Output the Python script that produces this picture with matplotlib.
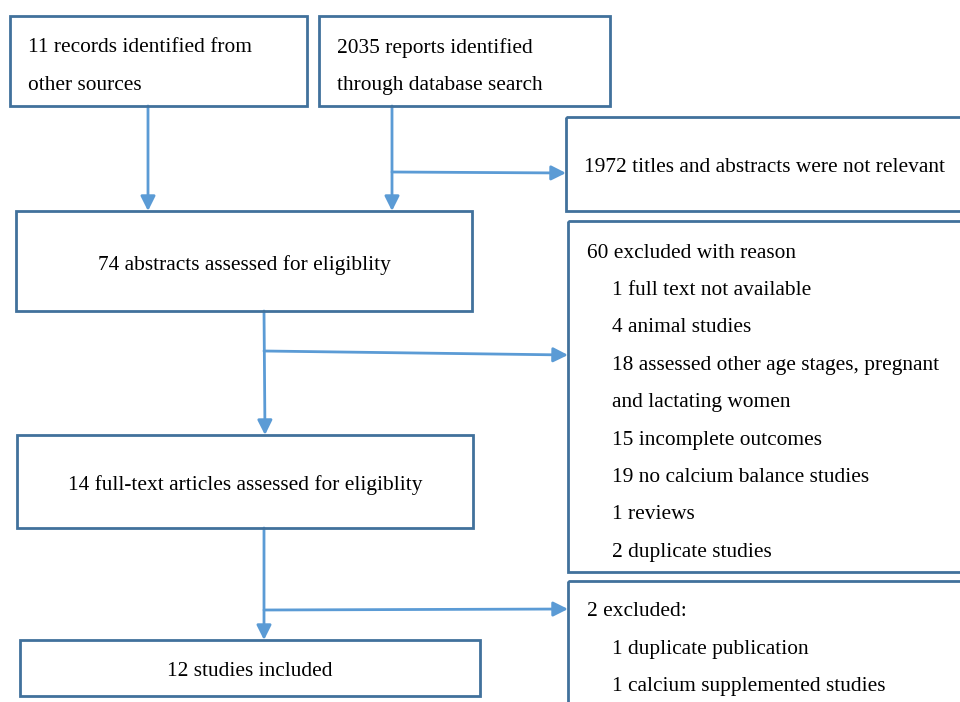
import matplotlib
matplotlib.use("Agg")
import matplotlib.pyplot as plt
from matplotlib.patches import Rectangle

# ---- content ----
box_a_lines = ["11 records identified from", "other sources"]
box_b_lines = ["2035 reports identified", "through database search"]
box_c_lines = ["1972 titles and abstracts were not relevant"]
box_d_lines = ["74 abstracts assessed for eligiblity"]
box_e_head = "60 excluded with reason"
box_e_items = ["1 full text not available", "4 animal studies",
               "18 assessed other age stages, pregnant", "and lactating women",
               "15 incomplete outcomes", "19 no calcium balance studies",
               "1 reviews", "2 duplicate studies"]
box_f_lines = ["14 full-text articles assessed for eligiblity"]
box_g_head = "2 excluded:"
box_g_items = ["1 duplicate publication", "1 calcium supplemented studies"]
box_h_lines = ["12 studies included"]

# ---- layout (pixel coords, y downward) ----
W, H = 960, 702
EDGE = "#41719C"
ARROW = "#5B9BD5"
FONT = "Liberation Serif"
FS = 15.4
LS = 37.4
DY = 2

fig = plt.figure(figsize=(9.6, 7.02), dpi=100)
ax = fig.add_axes([0, 0, 1, 1])
ax.set_xlim(0, W)
ax.set_ylim(H, 0)
ax.axis("off")

def box(x0, y0, x1, y1):
    ax.add_patch(Rectangle((x0, y0), x1 - x0, y1 - y0, fill=False,
                           edgecolor=EDGE, lw=2.0, zorder=2))

def txt(x, y, s, ha="left"):
    ax.text(x, y + DY, s, ha=ha, va="center", fontsize=FS, family=FONT,
            color="black", zorder=3)

def arrow(x0, y0, x1, y1):
    ax.annotate("", xy=(x1, y1), xytext=(x0, y0),
                arrowprops=dict(arrowstyle="-|>", color=ARROW, lw=2.0,
                                mutation_scale=22, shrinkA=0, shrinkB=0),
                zorder=1)

# boxes
box(10, 16, 307, 106)
box(319, 16, 610, 106)
box(566, 117, 975, 211)
box(16, 211, 472, 311)
box(568, 221, 975, 572)
box(17, 435, 473, 528)
box(568, 581, 975, 720)
box(20, 640, 480, 696)

# texts
for i, s in enumerate(box_a_lines):
    txt(28, 46 + i * LS, s)
for i, s in enumerate(box_b_lines):
    txt(337, 46 + i * LS, s)
txt(584, 165, box_c_lines[0])
txt(244, 263, box_d_lines[0], ha="center")
txt(587, 251, box_e_head)
for i, s in enumerate(box_e_items):
    txt(612, 251 + (i + 1) * LS, s)
txt(245, 483, box_f_lines[0], ha="center")
txt(587, 610, box_g_head)
for i, s in enumerate(box_g_items):
    txt(612, 610 + (i + 1) * LS, s)
txt(250, 670, box_h_lines[0], ha="center")

# arrows
arrow(148, 106, 148, 211)
arrow(392, 106, 392, 211)
arrow(392, 172, 566, 173)
arrow(264, 311, 265, 435)
arrow(264, 351, 568, 355)
arrow(264, 528, 264, 640)
arrow(264, 610, 568, 609)

fig.savefig("out.png", dpi=100)
